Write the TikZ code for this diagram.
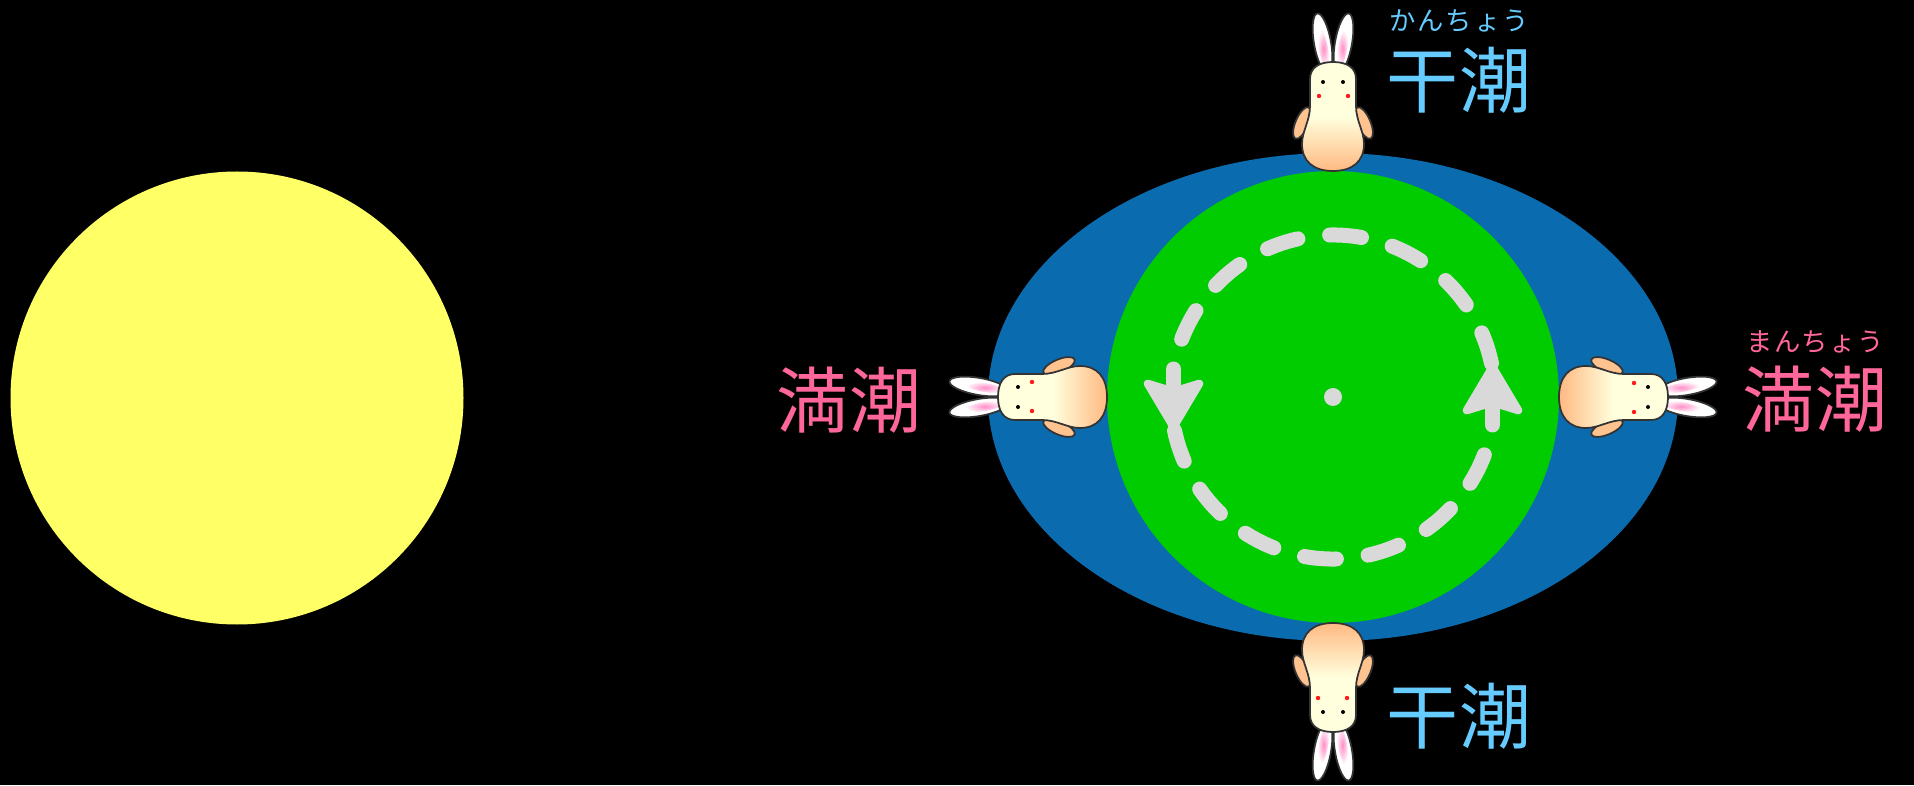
\documentclass[tikz,border=0pt]{standalone}
\usepackage{fontspec}
\newfontfamily\jpfont{Noto Sans CJK JP}
\usetikzlibrary{arrows.meta}

\definecolor{sunyellow}{HTML}{FFFF66}
\definecolor{oceanblue}{HTML}{0B6BAF}
\definecolor{earthgreen}{HTML}{00CC00}
\definecolor{spingrey}{HTML}{D9D9D9}
\definecolor{lowblue}{HTML}{66CCFF}
\definecolor{highpink}{HTML}{FF6699}
\definecolor{bunnycream}{HTML}{FFFFDD}
\definecolor{bunnypeach}{HTML}{FFB982}
\definecolor{earpink}{HTML}{FF8FC8}
\definecolor{bunnyline}{HTML}{333333}

\tikzset{
    bunny/.style={draw=bunnyline, line width=0.035cm},
    % rabbit standing on the origin, ears along +y; #1 = turn of the shading
    pics/rabbit/.style={code={
        % ears
        \foreach \s in {-1,1} {
            \begin{scope}[shift={(\s*10.5,128)}, rotate={\s*(-10)}]
                \filldraw[bunny, fill=white] (0,0) ellipse (8.5 and 30);
                \shade[inner color=earpink, outer color=white] (0,-6) ellipse (4.5 and 20);
            \end{scope}
        }
        % arms
        \foreach \s in {-1,1} {
            \begin{scope}[shift={(\s*31,48)}, rotate={\s*23}]
                \filldraw[bunny, fill=bunnypeach!85!bunnycream] (0,0) ellipse (6.5 and 17);
            \end{scope}
        }
        % body
        \path[bunny, top color=bunnycream, bottom color=bunnypeach,
              middle color=bunnycream, shading angle=#1]
            (0,0) .. controls (20,0) and (31,10) .. (31,27)
            .. controls (31,40) and (23,50) .. (23,65) -- (23,92)
            .. controls (23,104) and (13,109) .. (0,109)
            .. controls (-13,109) and (-23,104) .. (-23,92) -- (-23,65)
            .. controls (-23,50) and (-31,40) .. (-31,27)
            .. controls (-31,10) and (-20,0) .. (0,0) -- cycle;
        % face
        \fill[black] (-10,89) circle[radius=2] (10,89) circle[radius=2];
        \fill[red!90!white] (-14,75) circle[radius=2.2] (15,75) circle[radius=2.2];
    }}
}

\begin{document}
\begin{tikzpicture}[
    x=0.02cm, y=0.02cm,
    spin/.style={
        draw=spingrey,
        line width=0.3cm,
        line cap=round,
        dash pattern=on 0.64cm off 0.64cm
    },
    spintip/.style={
        solid,
        -{Stealth[length=1.15cm, width=1.35cm, inset=0.2cm, round, line width=0.16cm]}
    },
    kanji/.style={
        inner sep=0pt,
        font=\jpfont\fontsize{41}{41}\selectfont
    },
    ruby/.style={
        inner sep=0pt,
        font=\jpfont\fontsize{15}{15}\selectfont
    }
]

\useasboundingbox (0,0) rectangle (1914,785);
\fill[black] (0,0) rectangle (1914,785);

% Sun
\fill[sunyellow] (237,387) circle[radius=226.5];

% Earth with its tidal bulge
\coordinate (earth) at (1333,388);
\fill[oceanblue] (earth) ellipse (345 and 244);
\fill[earthgreen] (earth) circle[radius=226];
\fill[spingrey] (earth) circle[radius=9];

% Rotation (counterclockwise)
\coordinate (spin-r-tail) at (1492.5,360);
\coordinate (spin-r-tip) at (1492.5,422);
\coordinate (spin-l-tail) at (1173.5,416);
\coordinate (spin-l-tip) at (1173.5,354);
\draw[spin] ([shift={(12:162)}]earth) arc[start angle=12, end angle=170, radius=162];
\draw[spin] ([shift={(192:162)}]earth) arc[start angle=192, end angle=350, radius=162];
\draw[spin, spintip] (spin-r-tail) -- (spin-r-tip);
\draw[spin, spintip] (spin-l-tail) -- (spin-l-tip);

% Rabbits on the four sides
\pic[rotate=0] (bunny-top) at (1333,614) {rabbit=0};
\pic[rotate=180] (bunny-bottom) at (1333,162) {rabbit=180};
\pic[rotate=90] (bunny-left) at (1107,388) {rabbit=90};
\pic[rotate=-90] (bunny-right) at (1559,388) {rabbit=-90};

% Tide labels
\node[kanji, text=lowblue] (low-top) at (1459,705) {干潮};
\node[ruby, text=lowblue] (low-top-ruby) at (1459,764)
    {\makebox[2.8cm]{か\hfill ん\hfill ち\hfill ょ\hfill う}};
\node[kanji, text=lowblue] (low-bottom) at (1459,69) {干潮};
\node[kanji, text=highpink] (high-right) at (1815,386) {満潮};
\node[ruby, text=highpink] (high-right-ruby) at (1815,443)
    {\makebox[2.75cm]{ま\hfill ん\hfill ち\hfill ょ\hfill う}};
\node[kanji, text=highpink] (high-left) at (849,385) {満潮};

\end{tikzpicture}
\end{document}
